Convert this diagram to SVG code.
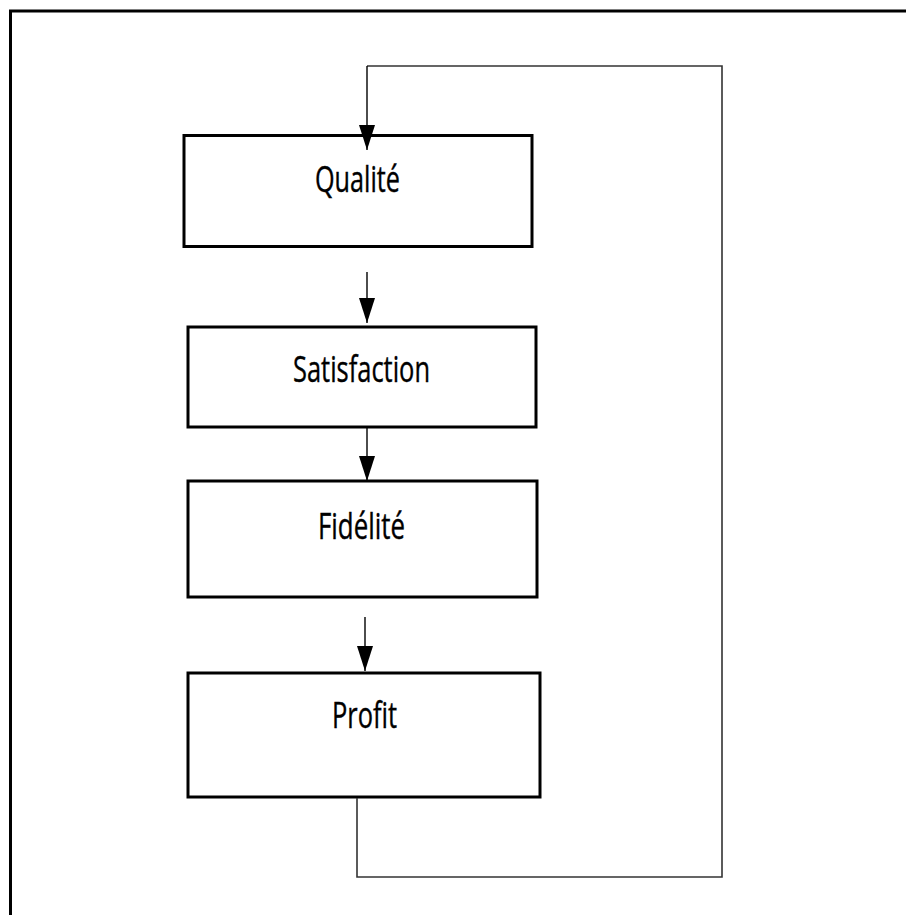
<svg xmlns="http://www.w3.org/2000/svg" width="906" height="915" viewBox="0 0 906 915">
  <style>
    .frame { fill: none; stroke: #000; stroke-width: 3; }
    .box { fill: #fff; stroke: #000; stroke-width: 3; }
    .label { font-family: "Open Sans", "Liberation Sans", sans-serif; font-size: 36px; fill: #000; stroke: #000; stroke-width: 0.4; text-anchor: middle; }
    .flow { fill: none; stroke: #000; stroke-width: 1.4; }
    .loop { fill: none; stroke: #333; stroke-width: 1.6; }
  </style>
  <defs>
    <marker id="arrow" viewBox="0 0 25 16" refX="25" refY="8" markerWidth="25" markerHeight="16" markerUnits="userSpaceOnUse" orient="auto">
      <path d="M0,0 L25,8 L0,16 Z" fill="#000"/>
    </marker>
  </defs>

  <rect width="906" height="915" fill="#fff"/>
  <!-- page frame (right and bottom edges fall outside the view) -->
  <rect class="frame" x="10.5" y="11" width="1000" height="1000"/>

  <g id="qualite">
    <rect class="box" x="184" y="135.5" width="348" height="111"/>
    <text class="label" x="357.5" y="192" textLength="85" lengthAdjust="spacingAndGlyphs">Qualité</text>
  </g>
  <g id="satisfaction">
    <rect class="box" x="188" y="327" width="348" height="100"/>
    <text class="label" x="361.5" y="382" textLength="137" lengthAdjust="spacingAndGlyphs">Satisfaction</text>
  </g>
  <g id="fidelite">
    <rect class="box" x="188" y="481" width="349" height="116"/>
    <text class="label" x="361.5" y="539" textLength="87" lengthAdjust="spacingAndGlyphs">Fidélité</text>
  </g>
  <g id="profit">
    <rect class="box" x="188" y="673" width="352" height="124"/>
    <text class="label" x="364.5" y="728" textLength="65" lengthAdjust="spacingAndGlyphs">Profit</text>
  </g>

  <g id="connectors">
    <line class="flow" x1="367" y1="272" x2="367" y2="323" marker-end="url(#arrow)"/>
    <line class="flow" x1="367" y1="428" x2="367" y2="481" marker-end="url(#arrow)"/>
    <line class="flow" x1="365" y1="617" x2="365" y2="671" marker-end="url(#arrow)"/>
    <!-- feedback loop from Profit back to Qualité -->
    <path class="loop" d="M357,798 V877 H722 V66 H367"/>
    <line class="flow" x1="367" y1="66" x2="367" y2="150" marker-end="url(#arrow)"/>
  </g>
</svg>
